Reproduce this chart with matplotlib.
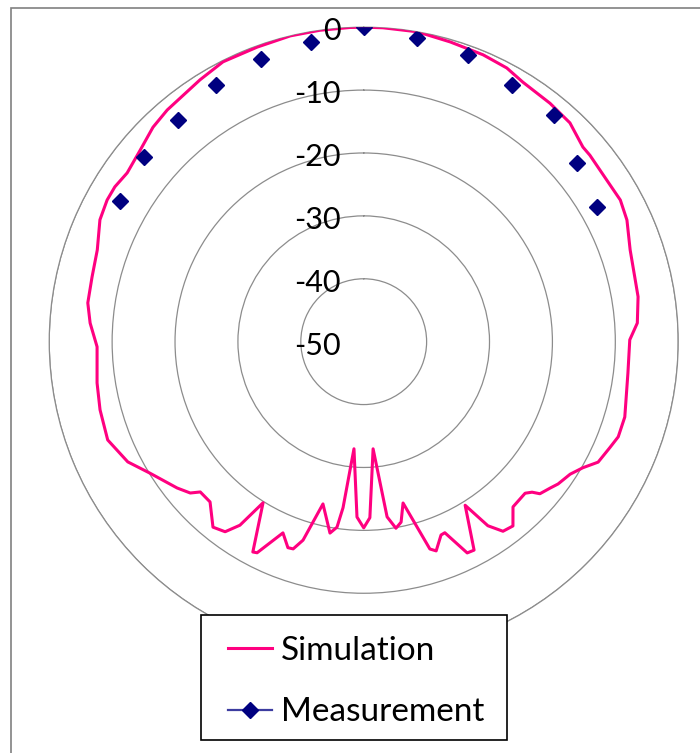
import numpy as np
import matplotlib
matplotlib.use('Agg')
import matplotlib.pyplot as plt
from matplotlib.lines import Line2D
from matplotlib.patches import Rectangle
import matplotlib.transforms as mtransforms

# Simulation: angle (deg, clockwise from top) and level (dB)
sim_angle = [0.0, 3.5, 9.8, 16.1, 22.6, 27.6, 31.5, 38.0, 43.3, 48.4, 50.5, 56.4, 61.1, 65.2, 71.0,
             76.6, 80.7, 86.1, 89.6, 96.8, 106.1, 110.5, 113.3, 117.2, 119.9, 122.7, 126.2, 128.1,
             130.8, 131.8, 133.2, 137.9, 141.0, 143.7, 146.0, 148.2, 152.1, 153.9, 157.0, 158.2,
             160.9, 162.3, 166.3, 168.3, 170.2, 172.4, 175.0, 178.0, 180.0, 182.2, 185.2, 187.1,
             188.2, 190.0, 194.1, 197.0, 198.8, 200.2, 202.9, 206.8, 207.8, 212.0, 214.0, 216.1,
             219.1, 223.8, 227.4, 228.9, 231.9, 238.4, 243.0, 249.0, 255.5, 261.2, 268.9, 273.9,
             278.0, 283.4, 289.0, 294.8, 298.9, 301.9, 305.5, 310.6, 315.5, 319.7, 328.0, 333.3,
             340.1, 346.5, 352.0, 357.5]
sim_db = [0.0, -0.0, -0.0, -0.4, -0.6, -0.9, -1.6, -1.9, -2.2, -3.4, -3.4, -3.6, -3.4, -3.9, -5.2,
          -5.7, -5.8, -6.4, -7.7, -7.7, -6.8, -6.8, -7.4, -8.1, -9.8, -11.0, -11.7, -12.3, -13.0,
          -14.1, -14.8, -14.6, -12.3, -12.6, -14.7, -19.4, -12.5, -12.6, -17.0, -16.9, -14.8, -15.4,
          -23.6, -20.7, -19.9, -21.9, -32.9, -22.0, -20.4, -22.1, -32.9, -23.4, -20.2, -19.1, -23.4,
          -17.0, -15.2, -15.1, -17.0, -12.4, -12.2, -19.8, -14.8, -12.6, -12.0, -14.7, -14.7, -13.4,
          -12.3, -10.1, -7.9, -6.4, -6.7, -7.1, -7.6, -6.4, -5.7, -5.6, -5.2, -3.8, -3.4, -3.4, -3.8,
          -3.2, -2.2, -1.7, -0.9, -0.2, -0.2, 0.0, 0.0, 0.0]

# Measurement
meas_angle = [-60, -50, -40, -30, -20, -10, 0, 10, 20, 30, 40, 50, 60]
meas_db = [-5.2, -4.4, -4.0, -2.9, -2.2, -1.6, 0.0, -0.9, -1.5, -2.9, -3.0, -5.7, -7.1]

r_ticks = [-50, -40, -30, -20, -10, 0]
series_names = ['Simulation', 'Measurement']

plt.rcParams['font.family'] = ['Lato', 'DejaVu Sans']

W, H = 700, 753
fig = plt.figure(figsize=(W / 100, H / 100), dpi=100)
ax = fig.add_axes([0.0703, 0.1286, 0.8986, 0.8353], projection='polar')
ax.set_theta_zero_location('N')
ax.set_theta_direction(-1)

ax.plot(np.radians(sim_angle + [360]), sim_db + [sim_db[0]], color='#FF0080', lw=2.2, zorder=3)
ax.plot(np.radians(meas_angle), meas_db, ls='none', marker='D', ms=8, color='#000080', zorder=4)

ax.set_ylim(r_ticks[0], r_ticks[-1])
ax.set_yticks(r_ticks[1:])
ax.set_yticklabels([])
ax.set_xticks([])
ax.yaxis.grid(True, color='#8c8c8c', lw=0.9)
ax.xaxis.grid(False)
ax.spines['polar'].set_color('#8c8c8c')
ax.spines['polar'].set_linewidth(0.9)

off = mtransforms.ScaledTranslation(-23 / 100, -4 / 100, fig.dpi_scale_trans)
for v in r_ticks:
    ax.text(0, v, str(v), transform=ax.transData + off,
            ha='right', va='center', fontsize=22, color='black', zorder=6)

# outer chart frame (left and top edges visible)
fig.add_artist(Rectangle((11 / W, -0.2), 1.2, 1.2 - 8 / H, transform=fig.transFigure,
                         fill=False, edgecolor='#808080', lw=1.2))

# legend box
fig.add_artist(Rectangle((201 / W, 1 - 740 / H), 306 / W, 125 / H, transform=fig.transFigure,
                         facecolor='white', edgecolor='black', lw=1.2, zorder=4))

h_sim = Line2D([], [], color='#FF0080', lw=2.2)
h_meas = Line2D([], [], color='#3c3ca0', lw=1.6, marker='D', ms=8,
                markerfacecolor='#000080', markeredgecolor='#000080')
leg = fig.legend([h_sim, h_meas], series_names, loc='upper left',
                 bbox_to_anchor=(228 / W, 1 - 635.6 / H),
                 fontsize=24, frameon=False,
                 handlelength=1.32, handletextpad=0.27, labelspacing=0.95,
                 borderpad=0, borderaxespad=0)
leg.set_zorder(5)

fig.savefig('out.png')
